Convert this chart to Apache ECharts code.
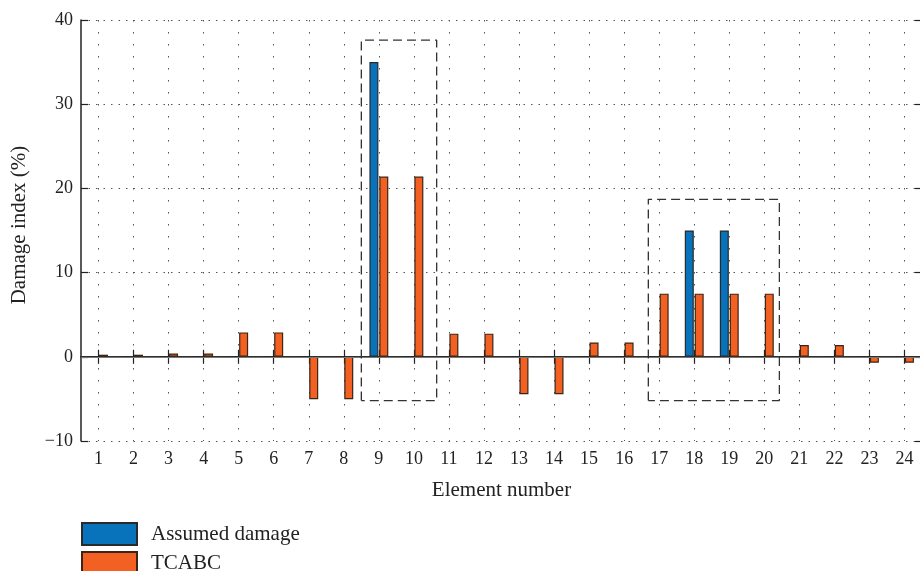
<!DOCTYPE html>
<html>
<head>
<meta charset="utf-8">
<script src="https://cdn.jsdelivr.net/npm/echarts@6/dist/echarts.min.js"></script>
<style>html,body{margin:0;padding:0;background:#fff}#c{width:920px;height:571px}</style>
</head>
<body>
<div id="c"></div>
<script>
const categories = ['1','2','3','4','5','6','7','8','9','10','11','12','13','14','15','16','17','18','19','20','21','22','23','24'];
const assumedDamage = [0,0,0,0,0,0,0,0,35,0,0,0,0,0,0,0,0,15,15,0,0,0,0,0];
const tcabc = [0.25,0.25,0.4,0.4,2.9,2.9,-5.05,-5.05,21.4,21.4,2.75,2.75,-4.45,-4.45,1.7,1.7,7.5,7.5,7.5,7.5,1.4,1.4,-0.7,-0.7];
const yTicks = {min:-10, max:40, interval:10};
const box1 = [[8.5,-5.2],[8.5,37.6],[10.65,37.6],[10.65,-5.2],[8.5,-5.2]];
const box2 = [[16.69,-5.2],[16.69,18.7],[20.43,18.7],[20.43,-5.2],[16.69,-5.2]];

const FONT = 'Liberation Serif';
const chart = echarts.init(document.getElementById('c'), null, {renderer:'canvas'});
const axisLine = {show:true, lineStyle:{color:'#222', width:1.5}};
chart.setOption({
  animation:false,
  backgroundColor:'#fff',
  textStyle:{fontFamily:FONT},
  grid:{left:81, width:841, top:20, height:421, containLabel:false, outerBoundsMode:'none'},
  legend:{
    orient:'vertical', left:81, top:522, height:100, padding:0,
    itemWidth:55, itemHeight:22, itemGap:5,
    icon:'rect', data:['Assumed damage','TCABC'],
    textStyle:{fontFamily:FONT, fontSize:21, color:'#222', padding:[0,0,0,9]}
  },
  xAxis:[
    {type:'category', data:categories, position:'bottom', boundaryGap:true,
     axisLine:axisLine,
     axisTick:{show:true, inside:true, length:7, alignWithLabel:true, lineStyle:{color:'#222', width:1.2}},
     axisLabel:{fontFamily:FONT, fontSize:18, color:'#222', margin:9},
     splitLine:{show:true, alignWithLabel:true, lineStyle:{color:'#555', width:1, type:[1.5,10.5]}},
     name:'Element number', nameLocation:'middle', nameGap:39,
     nameTextStyle:{fontFamily:FONT, fontSize:21, color:'#222'}},
    {type:'category', data:categories, position:'top', boundaryGap:true,
     axisLine:axisLine,
     axisTick:{show:true, inside:true, length:7, alignWithLabel:true, lineStyle:{color:'#222', width:1.2}},
     axisLabel:{show:false}, splitLine:{show:false}},
    {type:'value', min:0.5, max:24.5, show:false}
  ],
  yAxis:[
    {type:'value', min:yTicks.min, max:yTicks.max, interval:yTicks.interval, position:'left',
     axisLine:axisLine,
     axisTick:{show:true, inside:true, length:7, lineStyle:{color:'#222', width:1.2}},
     axisLabel:{fontFamily:FONT, fontSize:18, color:'#222', margin:8,
       formatter:v => String(v).replace('-', '\u2212')},
     splitLine:{show:true, lineStyle:{color:'#555', width:1, type:[1.5,6]}},
     name:'Damage index (%)', nameLocation:'middle', nameGap:51,
     nameTextStyle:{fontFamily:FONT, fontSize:21, color:'#222', padding:[0,0,0,11]}},
    {type:'value', min:yTicks.min, max:yTicks.max, interval:yTicks.interval, position:'right',
     axisLine:axisLine,
     axisTick:{show:true, inside:true, length:7, lineStyle:{color:'#222', width:1.2}},
     axisLabel:{show:false}, splitLine:{show:false}}
  ],
  series:[
    {name:'Assumed damage', type:'bar', xAxisIndex:0, yAxisIndex:0, data:assumedDamage,
     barWidth:9, barGap:'10%',
     itemStyle:{color:'#0872BB', borderColor:'#2a2a2a', borderWidth:1.2},
     markLine:{silent:true, symbol:'none', label:{show:false},
       lineStyle:{color:'#777', width:1.2, type:'solid'}, data:[{yAxis:0}]}},
    {name:'TCABC', type:'bar', xAxisIndex:0, yAxisIndex:0, data:tcabc,
     barWidth:9, barGap:'10%',
     itemStyle:{color:'#F26122', borderColor:'#3a2518', borderWidth:1.2}},
    {name:'box1', type:'line', xAxisIndex:2, yAxisIndex:0, data:box1, symbol:'none', silent:true,
     lineStyle:{color:'#333', width:1.3, type:[9,5]}, z:5},
    {name:'box2', type:'line', xAxisIndex:2, yAxisIndex:0, data:box2, symbol:'none', silent:true,
     lineStyle:{color:'#333', width:1.3, type:[9,5]}, z:5}
  ]
});
</script>
</body>
</html>
